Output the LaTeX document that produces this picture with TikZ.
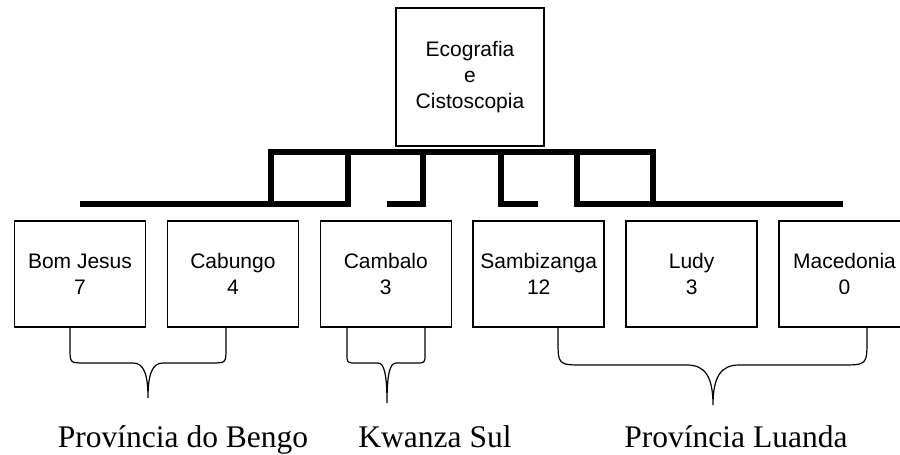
\documentclass[tikz,border=0pt]{standalone}
\usepackage{fontspec}
\setmainfont{Liberation Serif}
\setsansfont{Liberation Sans}
\usepackage{tikz}

\tikzset{
    caixa/.style={draw=black, line width=0.75pt, minimum width=65.5pt, minimum height=53pt,
        inner sep=0pt, align=center, font=\sffamily\fontsize{10.5}{13}\selectfont},
    barra/.style={line width=3pt, line join=miter},
    chave/.style={line width=0.6pt},
    provincia/.style={anchor=base, font=\fontsize{15.75}{18}\selectfont}
}

% chave: esquerda, meio, direita, altura, ponta, raio
\newcommand{\chaveta}[6]{
    \draw[chave] (#1,327) -- (#1,#4-#6) .. controls (#1,#4) .. (#1+#6,#4)
        -- (#2-#6,#4) .. controls (#2-0.3*#6,#4) and (#2,#4+0.3*#5-0.3*#4) .. (#2,#5)
        .. controls (#2,#4+0.3*#5-0.3*#4) and (#2+0.3*#6,#4) .. (#2+#6,#4)
        -- (#3-#6,#4) .. controls (#3,#4) .. (#3,#4-#6) -- (#3,327);
}

\begin{document}
\begin{tikzpicture}[x=0.5pt, y=-0.5pt]
    \useasboundingbox (0,0) rectangle (900,455);

    \node[caixa, minimum width=74pt, minimum height=69pt] at (470,77) (eco) {Ecografia\\e\\Cistoscopia};

    \node[caixa] at (80,274) (bj) {Bom Jesus\\7};
    \node[caixa] at (232.9,274) (cab) {Cabungo\\4};
    \node[caixa] at (385.8,274) (cam) {Cambalo\\3};
    \node[caixa] at (538.7,274) (sam) {Sambizanga\\12};
    \node[caixa] at (691.6,274) (lud) {Ludy\\3};
    \node[caixa] at (844.5,274) (mac) {Macedonia\\0};

    % barras
    \draw[barra] (80,204) -- (271,204) -- (271,152) -- (653,152) -- (653,204);
    \draw[barra] (271,204) -- (348,204) -- (348,152);
    \draw[barra] (423,152) -- (423,204) -- (387,204);
    \draw[barra] (501,152) -- (501,204) -- (538,204);
    \draw[barra] (577,152) -- (577,204) -- (843,204);

    % chaves
    \chaveta{70}{148}{226}{363}{398}{15}
    \chaveta{347}{387}{425}{363}{403}{9}
    \chaveta{558}{713}{867}{365}{405}{26}

    \node[provincia] at (183,447) (bengo) {Província do Bengo};
    \node[provincia] at (435,447) (kwanza) {Kwanza Sul};
    \node[provincia] at (736,447) (luanda) {Província Luanda};
\end{tikzpicture}
\end{document}
